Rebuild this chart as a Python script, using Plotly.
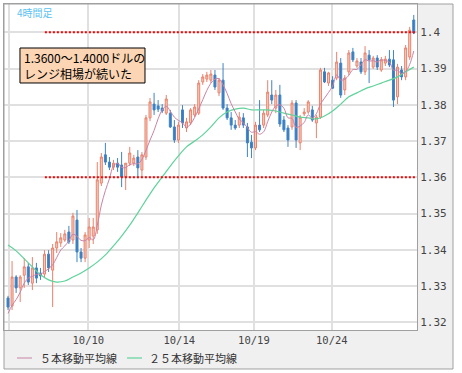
import plotly.graph_objects as go

# ---- data (4-hour candles) ----
opens = [1.3267, 1.3245, 1.3325, 1.3295, 1.3330, 1.3353, 1.3308, 1.3350, 1.3336, 1.3333,
         1.3388, 1.3344, 1.3405, 1.3419, 1.3427, 1.3449, 1.3427, 1.3482, 1.3394, 1.3377,
         1.3427, 1.3438, 1.3455, 1.3584, 1.3662, 1.3642, 1.3628, 1.3639, 1.3634, 1.3601,
         1.3639, 1.3639, 1.3656, 1.3620, 1.3656, 1.3764, 1.3802, 1.3797, 1.3791, 1.3777,
         1.3777, 1.3739, 1.3703, 1.3786, 1.3736, 1.3750, 1.3772, 1.3777, 1.3863, 1.3871,
         1.3868, 1.3882, 1.3833, 1.3868, 1.3791, 1.3764, 1.3744, 1.3744, 1.3764, 1.3739,
         1.3697, 1.3681, 1.3744, 1.3744, 1.3772, 1.3827, 1.3791, 1.3827, 1.3758, 1.3736,
         1.3739, 1.3805, 1.3695, 1.3775, 1.3780, 1.3786, 1.3750, 1.3766, 1.3891, 1.3860,
         1.3868, 1.3874, 1.3915, 1.3841, 1.3891, 1.3946, 1.3907, 1.3918, 1.3891, 1.3937,
         1.3904, 1.3929, 1.3896, 1.3915, 1.3926, 1.3924, 1.3822, 1.3896, 1.3877, 1.3932,
         1.4034]
highs = [1.3273, 1.3369, 1.3330, 1.3330, 1.3377, 1.3364, 1.3380, 1.3364, 1.3350, 1.3399,
         1.3399, 1.3416, 1.3449, 1.3446, 1.3455, 1.3466, 1.3502, 1.3510, 1.3405, 1.3449,
         1.3488, 1.3488, 1.3642, 1.3667, 1.3695, 1.3656, 1.3648, 1.3653, 1.3670, 1.3639,
         1.3684, 1.3662, 1.3675, 1.3670, 1.3772, 1.3819, 1.3833, 1.3813, 1.3802, 1.3827,
         1.3786, 1.3758, 1.3753, 1.3799, 1.3764, 1.3791, 1.3802, 1.3868, 1.3885, 1.3891,
         1.3896, 1.3896, 1.3874, 1.3915, 1.3802, 1.3780, 1.3758, 1.3780, 1.3777, 1.3750,
         1.3717, 1.3753, 1.3813, 1.3786, 1.3868, 1.3868, 1.3841, 1.3855, 1.3769, 1.3744,
         1.3813, 1.3813, 1.3772, 1.3791, 1.3813, 1.3797, 1.3772, 1.3902, 1.3902, 1.3891,
         1.3879, 1.3946, 1.3929, 1.3882, 1.3951, 1.3957, 1.3929, 1.3929, 1.3962, 1.3951,
         1.3935, 1.3937, 1.3932, 1.3935, 1.3951, 1.3951, 1.3913, 1.3907, 1.3965, 1.4015,
         1.4048]
lows = [1.3234, 1.3234, 1.3281, 1.3256, 1.3295, 1.3303, 1.3289, 1.3308, 1.3317, 1.3325,
        1.3339, 1.3242, 1.3391, 1.3408, 1.3422, 1.3416, 1.3416, 1.3366, 1.3366, 1.3366,
        1.3405, 1.3416, 1.3444, 1.3576, 1.3634, 1.3620, 1.3620, 1.3615, 1.3573, 1.3565,
        1.3631, 1.3631, 1.3598, 1.3601, 1.3648, 1.3755, 1.3772, 1.3780, 1.3777, 1.3772,
        1.3736, 1.3695, 1.3695, 1.3736, 1.3725, 1.3744, 1.3766, 1.3772, 1.3855, 1.3863,
        1.3860, 1.3841, 1.3824, 1.3786, 1.3758, 1.3731, 1.3731, 1.3736, 1.3736, 1.3656,
        1.3653, 1.3675, 1.3725, 1.3736, 1.3766, 1.3802, 1.3777, 1.3739, 1.3725, 1.3684,
        1.3731, 1.3681, 1.3675, 1.3769, 1.3775, 1.3753, 1.3708, 1.3761, 1.3860, 1.3852,
        1.3844, 1.3868, 1.3819, 1.3827, 1.3882, 1.3918, 1.3902, 1.3885, 1.3882, 1.3860,
        1.3899, 1.3896, 1.3891, 1.3907, 1.3904, 1.3794, 1.3802, 1.3868, 1.3868, 1.3924,
        1.3995]
closes = [1.3242, 1.3325, 1.3295, 1.3325, 1.3353, 1.3311, 1.3350, 1.3322, 1.3328, 1.3388,
          1.3350, 1.3405, 1.3422, 1.3433, 1.3444, 1.3422, 1.3493, 1.3394, 1.3377, 1.3441,
          1.3463, 1.3463, 1.3593, 1.3656, 1.3642, 1.3628, 1.3639, 1.3628, 1.3601, 1.3639,
          1.3667, 1.3653, 1.3626, 1.3662, 1.3764, 1.3808, 1.3786, 1.3788, 1.3783, 1.3816,
          1.3739, 1.3703, 1.3744, 1.3750, 1.3753, 1.3786, 1.3794, 1.3860, 1.3877, 1.3882,
          1.3885, 1.3849, 1.3868, 1.3791, 1.3764, 1.3744, 1.3736, 1.3766, 1.3744, 1.3695,
          1.3681, 1.3744, 1.3731, 1.3777, 1.3835, 1.3813, 1.3827, 1.3747, 1.3731, 1.3703,
          1.3805, 1.3703, 1.3766, 1.3780, 1.3808, 1.3758, 1.3766, 1.3896, 1.3863, 1.3888,
          1.3846, 1.3918, 1.3827, 1.3874, 1.3943, 1.3924, 1.3921, 1.3891, 1.3943, 1.3924,
          1.3929, 1.3904, 1.3924, 1.3926, 1.3910, 1.3813, 1.3904, 1.3877, 1.3957, 1.4006,
          1.3998]
prior_closes = [1.3212, 1.3217, 1.3223, 1.3228]   # closes before the first visible candle

ma25_index = list(range(0, 101, 2))
ma25_values = [1.3413, 1.3397, 1.3375, 1.3353, 1.3331, 1.3317, 1.3311, 1.3314, 1.3325, 1.3336,
               1.3350, 1.3366, 1.3386, 1.3411, 1.3438, 1.3468, 1.3502, 1.3537, 1.3571, 1.3601,
               1.3631, 1.3659, 1.3684, 1.3700, 1.3717, 1.3739, 1.3764, 1.3780, 1.3788, 1.3791,
               1.3786, 1.3786, 1.3786, 1.3783, 1.3777, 1.3772, 1.3766, 1.3764, 1.3761, 1.3769,
               1.3783, 1.3802, 1.3822, 1.3833, 1.3844, 1.3852, 1.3860, 1.3868, 1.3877, 1.3891,
               1.3904]

date_tick_pos = [0.3, 19.8, 42.2, 60.6, 79.8]
date_tick_labels = ["", "10/10", "10/14", "10/19", "10/24"]
price_ticks = [1.32, 1.33, 1.34, 1.35, 1.36, 1.37, 1.38, 1.39, 1.40]
price_tick_labels = ["1.32", "1.33", "1.34", "1.35", "1.36", "1.37", "1.38", "1.39", "1.4"]

range_levels = [1.36, 1.40]
note_lines = ["1.3600〜1.4000ドルの", "レンジ相場が続いた"]
chart_title = "4時間足"
legend_names = ["５本移動平均線", "２５本移動平均線"]

# ---- derived ----
idx = list(range(len(closes)))
all_c = prior_closes + closes
ma5 = [sum(all_c[i:i + 5]) / 5 for i in range(len(closes))]

PINK = "#c983a6"
GREEN = "#5fd39b"

fig = go.Figure()
fig.add_trace(go.Candlestick(
    x=idx, open=opens, high=highs, low=lows, close=closes,
    increasing=dict(line=dict(color="#e9826b", width=1), fillcolor="#f8cdbf"),
    decreasing=dict(line=dict(color="#3f84c6", width=1), fillcolor="#3a7bbd"),
    whiskerwidth=0, showlegend=False, hoverinfo="skip"))
fig.add_trace(go.Scatter(x=ma25_index, y=ma25_values, mode="lines", line=dict(color=GREEN, width=1.2, shape="spline"),
                         showlegend=False, hoverinfo="skip"))
fig.add_trace(go.Scatter(x=idx, y=ma5, mode="lines", line=dict(color=PINK, width=1, shape="spline"),
                         showlegend=False, hoverinfo="skip"))

shapes = []
# grey strips for axis areas
shapes.append(dict(type="rect", xref="paper", yref="paper", x0=1, x1=1.0872, y0=-0.1196, y1=1,
                   fillcolor="#f0f0f0", line=dict(width=0), layer="below"))
shapes.append(dict(type="rect", xref="paper", yref="paper", x0=0, x1=1.0872, y0=-0.1196, y1=0,
                   fillcolor="#f0f0f0", line=dict(width=0), layer="below"))
# outer frame
shapes.append(dict(type="rect", xref="paper", yref="paper", x0=0, x1=1.0872, y0=-0.1196, y1=1,
                   line=dict(color="#a0a0a0", width=1), fillcolor="rgba(0,0,0,0)"))
# range lines
for lv in range_levels:
    shapes.append(dict(type="line", xref="x domain", yref="y", x0=0.099, x1=0.995, y0=lv, y1=lv,
                       line=dict(color="#ff0000", width=2, dash="2px,2px")))
# note box
shapes.append(dict(type="rect", xref="paper", yref="paper", x0=0.0387, x1=0.3414, y0=0.7577, y1=0.865,
                   fillcolor="#fcd5b4", line=dict(color="#000000", width=1)))
# legend samples
shapes.append(dict(type="line", xref="paper", yref="paper", x0=0.0315, x1=0.0678, y0=-0.0859, y1=-0.0859,
                   line=dict(color=PINK, width=1)))
shapes.append(dict(type="line", xref="paper", yref="paper", x0=0.2978, x1=0.3341, y0=-0.0859, y1=-0.0859,
                   line=dict(color=GREEN, width=1.2)))

annotations = [
    dict(text=chart_title, xref="paper", yref="paper", x=0.0266, y=0.974, xanchor="left", yanchor="middle",
         showarrow=False, font=dict(family="Noto Sans CJK JP", size=10, color="#5bc2f2")),
    dict(text=note_lines[0], xref="paper", yref="paper", x=0.0436, y=0.8374, xanchor="left", yanchor="middle",
         showarrow=False, font=dict(family="Noto Sans CJK JP", size=12, color="#000000")),
    dict(text=note_lines[1], xref="paper", yref="paper", x=0.0436, y=0.7853, xanchor="left", yanchor="middle",
         showarrow=False, font=dict(family="Noto Sans CJK JP", size=12, color="#000000")),
    dict(text=legend_names[0], xref="paper", yref="paper", x=0.0823, y=-0.0859, xanchor="left", yanchor="middle",
         showarrow=False, font=dict(family="Noto Sans CJK JP", size=11, color="#333333")),
    dict(text=legend_names[1], xref="paper", yref="paper", x=0.3462, y=-0.0859, xanchor="left", yanchor="middle",
         showarrow=False, font=dict(family="Noto Sans CJK JP", size=11, color="#333333")),
]

fig.update_layout(
    width=462, height=373,
    margin=dict(l=4, r=45, t=4, b=43),
    paper_bgcolor="#ffffff", plot_bgcolor="#ffffff",
    showlegend=False,
    shapes=shapes, annotations=annotations,
    xaxis=dict(range=[-0.99, 100.8], tickvals=date_tick_pos, ticktext=date_tick_labels,
               showgrid=True, gridcolor="#e0e0e0", gridwidth=2, zeroline=False,
               showline=True, mirror=True, linecolor="#a0a0a0", linewidth=1,
               ticks="", rangeslider=dict(visible=False), fixedrange=True,
               tickfont=dict(family="DejaVu Sans Mono", size=10.5, color="#444444")),
    yaxis=dict(range=[1.31788, 1.40781], side="right", tickvals=price_ticks, ticktext=price_tick_labels,
               showgrid=True, gridcolor="#e0e0e0", gridwidth=2, zeroline=False,
               showline=True, mirror=True, linecolor="#a0a0a0", linewidth=1,
               ticks="", fixedrange=True,
               tickfont=dict(family="DejaVu Sans Mono", size=11, color="#444444")),
)

fig.write_html("out.html", config={"displayModeBar": False},
               post_script="document.body.style.margin='0px';document.body.style.overflow='hidden';")
